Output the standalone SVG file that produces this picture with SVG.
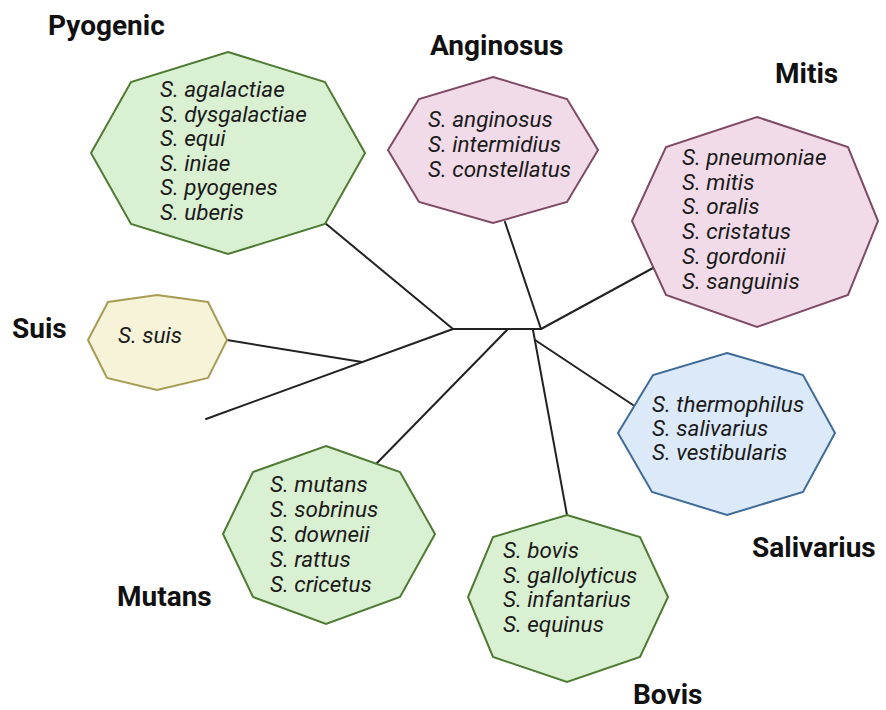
<svg xmlns="http://www.w3.org/2000/svg" width="886" height="710" viewBox="0 0 886 710">
<style>
.oct{stroke-width:2;stroke-linejoin:miter}
.green{fill:#daf0d2;stroke:#4e7a33}
.pink{fill:#f2dbe8;stroke:#7e4a65}
.yellow{fill:#f6f3d8;stroke:#a79c55}
.blue{fill:#dce9f8;stroke:#3f6b98}
.sp{font-family:Roboto,"Liberation Sans",sans-serif;font-style:italic;font-size:22.5px;fill:#1a1a1a}
.ttl{font-family:Roboto,"Liberation Sans",sans-serif;font-weight:bold;font-size:28px;fill:#111}
.edge{stroke:#222;stroke-width:2;fill:none;stroke-linecap:round}
</style>
<rect width="886" height="710" fill="#fff"/>
<g id="connectors">
<line class="edge" x1="453" y1="329" x2="541" y2="329"/>
<line class="edge" x1="453" y1="329" x2="325" y2="223"/>
<line class="edge" x1="453" y1="329" x2="206" y2="419"/>
<line class="edge" x1="227" y1="340" x2="362" y2="362"/>
<line class="edge" x1="507" y1="330" x2="377" y2="463"/>
<line class="edge" x1="541" y1="329" x2="505" y2="222"/>
<line class="edge" x1="541" y1="329" x2="653" y2="268"/>
<line class="edge" x1="533" y1="330" x2="567" y2="515"/>
<line class="edge" x1="535" y1="340" x2="633" y2="405"/>
</g>
<g id="pyogenic">
<polygon class="oct green" points="228,52 325,82 365,153 325,224 228,254 131,224 91,153 131,82"/>
<text class="sp" x="160" y="97">S. agalactiae</text>
<text class="sp" x="160" y="121.5">S. dysgalactiae</text>
<text class="sp" x="160" y="146">S. equi</text>
<text class="sp" x="160" y="170.5">S. iniae</text>
<text class="sp" x="160" y="195">S. pyogenes</text>
<text class="sp" x="160" y="219.5">S. uberis</text>
<text class="ttl" x="48" y="35">Pyogenic</text>
</g>
<g id="anginosus">
<polygon class="oct pink" points="493,77 567,99 598,150 567,202 493,223 419,202 388,150 419,99"/>
<text class="sp" x="428" y="127">S. anginosus</text>
<text class="sp" x="428" y="152">S. intermidius</text>
<text class="sp" x="428" y="177">S. constellatus</text>
<text class="ttl" x="430" y="55">Anginosus</text>
</g>
<g id="mitis">
<polygon class="oct pink" points="757,117 848,147 878,221 848,295 757,327 666,295 632,221 666,147"/>
<text class="sp" x="682" y="165">S. pneumoniae</text>
<text class="sp" x="682" y="189.7">S. mitis</text>
<text class="sp" x="682" y="214.4">S. oralis</text>
<text class="sp" x="682" y="239.1">S. cristatus</text>
<text class="sp" x="682" y="263.8">S. gordonii</text>
<text class="sp" x="682" y="288.5">S. sanguinis</text>
<text class="ttl" x="775" y="83">Mitis</text>
</g>
<g id="suis">
<polygon class="oct yellow" points="157,295 208,302 227,340 208,378 157,390 107,378 88,340 108,302"/>
<text class="sp" x="118" y="343">S. suis</text>
<text class="ttl" x="12" y="338">Suis</text>
</g>
<g id="salivarius">
<polygon class="oct blue" points="727,353 803,375 835,433 803,492 727,515 652,492 618,433 653,375"/>
<text class="sp" x="652" y="412">S. thermophilus</text>
<text class="sp" x="652" y="436">S. salivarius</text>
<text class="sp" x="652" y="460">S. vestibularis</text>
<text class="ttl" x="752" y="557">Salivarius</text>
</g>
<g id="mutans">
<polygon class="oct green" points="326,446 400,472 435,534 400,597 326,624 253,597 223,534 253,472"/>
<text class="sp" x="270" y="492">S. mutans</text>
<text class="sp" x="270" y="517">S. sobrinus</text>
<text class="sp" x="270" y="542">S. downeii</text>
<text class="sp" x="270" y="567">S. rattus</text>
<text class="sp" x="270" y="592">S. cricetus</text>
<text class="ttl" x="117" y="606">Mutans</text>
</g>
<g id="bovis">
<polygon class="oct green" points="567,515 640,537 668,597 640,657 567,682 493,657 468,597 493,537"/>
<text class="sp" x="503" y="558">S. bovis</text>
<text class="sp" x="503" y="582.6">S. gallolyticus</text>
<text class="sp" x="503" y="607.2">S. infantarius</text>
<text class="sp" x="503" y="631.8">S. equinus</text>
<text class="ttl" x="633" y="704">Bovis</text>
</g>
</svg>
